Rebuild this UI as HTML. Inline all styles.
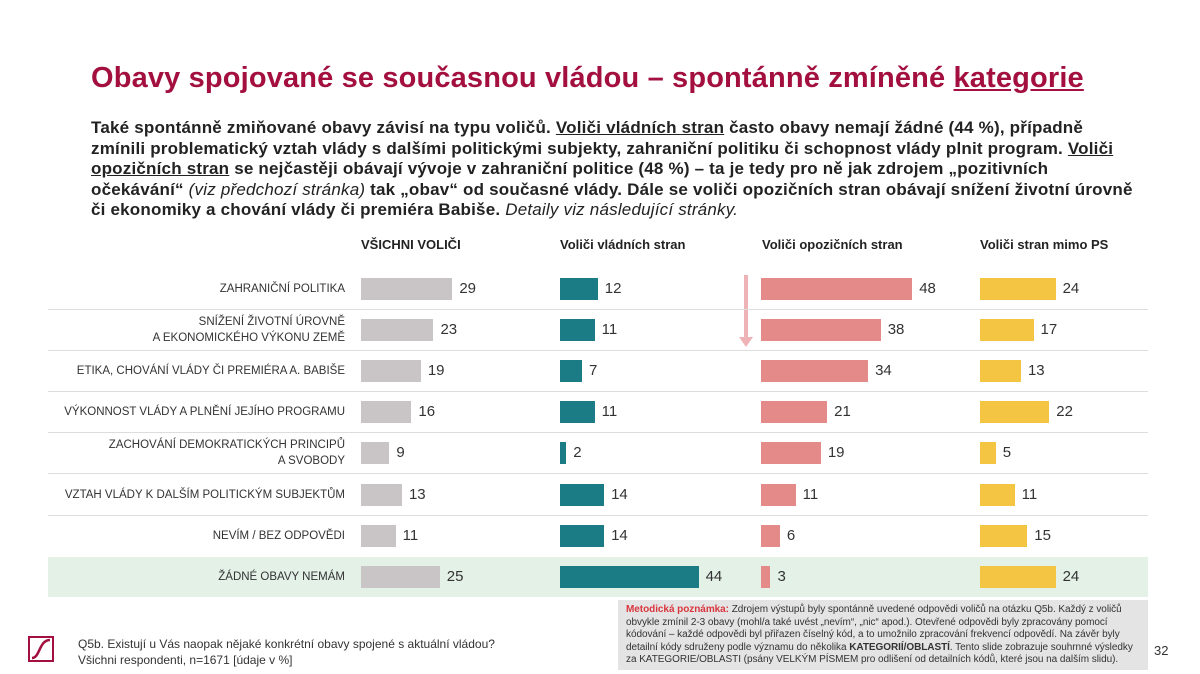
<!DOCTYPE html>
<html><head><meta charset="utf-8"><style>
body{margin:0;width:1200px;height:674px;background:#fff;font-family:"Liberation Sans",sans-serif;position:relative;overflow:hidden;color:#222}
.a{position:absolute}
h1{position:absolute;left:91px;top:62px;margin:0;font-size:29px;color:#a3103f;font-weight:bold;letter-spacing:0.15px;white-space:nowrap}
.p{left:91px;top:118px;font-size:17px;font-weight:bold;line-height:20.5px;color:#222;letter-spacing:0.2px;white-space:nowrap}
.p i{font-weight:normal}
.hd{top:237px;font-size:13px;font-weight:bold}
.lb{right:855px;font-size:11.5px;text-align:right;line-height:16px;color:#333;white-space:nowrap}
.bar{position:absolute;height:22px}
.v{position:absolute;font-size:15px;color:#333}
.sep{position:absolute;left:48px;width:1100px;height:1px;background:#ddd}
.n{left:618px;top:600px;width:530px;height:70px;background:#e4e4e4;box-sizing:border-box;padding:4px 8px;font-size:10px;line-height:12.5px;color:#333;white-space:nowrap;letter-spacing:-0.05px}
</style></head><body>
<h1>Obavy spojované se současnou vládou – spontánně zmíněné <u>kategorie</u></h1>
<div class="a p">Také spontánně zmiňované obavy závisí na typu voličů. <u>Voliči vládních stran</u> často obavy nemají žádné (44 %), případně<br>zmínili problematický vztah vlády s dalšími politickými subjekty, zahraniční politiku či schopnost vlády plnit program. <u>Voliči</u><br><u>opozičních stran</u> se nejčastěji obávají vývoje v zahraniční politice (48 %) – ta je tedy pro ně jak zdrojem „pozitivních<br>očekávání“ <i>(viz předchozí stránka)</i> tak „obav“ od současné vlády. Dále se voliči opozičních stran obávají snížení životní úrovně<br>či ekonomiky a chování vlády či premiéra Babiše. <i>Detaily viz následující stránky.</i></div>
<div class="a hd" style="left:361px">VŠICHNI VOLIČI</div>
<div class="a hd" style="left:560px">Voliči vládních stran</div>
<div class="a hd" style="left:762px">Voliči opozičních stran</div>
<div class="a hd" style="left:980px">Voliči stran mimo PS</div>
<div class="a" style="left:48px;top:557px;width:1100px;height:40px;background:#e3f1e6"></div>
<div class="a" style="left:744px;top:275px;width:4px;height:62px;background:#eeb3b7"></div>
<div class="a" style="left:739px;top:337px;width:0;height:0;border-left:7px solid transparent;border-right:7px solid transparent;border-top:10px solid #eeb3b7"></div>
<div id="c"></div>
<div class="a" style="left:28px;top:636px;width:22px;height:22px;border:2px solid #a3103f"></div>
<svg class="a" style="left:30px;top:638px" width="22" height="22"><path d="M2 20 C10 20 9 2 20 2" stroke="#a3103f" stroke-width="2.5" fill="none"/></svg>
<div class="a" style="left:78px;top:636px;font-size:12px;line-height:16px;color:#333">Q5b. Existují u Vás naopak nějaké konkrétní obavy spojené s aktuální vládou?<br>Všichni respondenti, n=1671 [údaje v %]</div>
<div class="a n"><b style="color:#d9363e">Metodická poznámka:</b> Zdrojem výstupů byly spontánně uvedené odpovědi voličů na otázku Q5b. Každý z voličů<br>obvykle zmínil 2-3 obavy (mohl/a také uvést „nevím“, „nic“ apod.). Otevřené odpovědi byly zpracovány pomocí<br>kódování – každé odpovědi byl přiřazen číselný kód, a to umožnilo zpracování frekvencí odpovědí. Na závěr byly<br>detailní kódy sdruženy podle významu do několika <b>KATEGORIÍ/OBLASTÍ</b>. Tento slide zobrazuje souhrnné výsledky<br>za KATEGORIE/OBLASTI (psány VELKÝM PÍSMEM pro odlišení od detailních kódů, které jsou na dalším slidu).</div>
<div class="a" style="left:1154px;top:643px;font-size:13px;color:#333">32</div>
<script>
var rows=[["ZAHRANIČNÍ POLITIKA",29,12,48,24],["SNÍŽENÍ ŽIVOTNÍ ÚROVNĚ<br>A EKONOMICKÉHO VÝKONU ZEMĚ",23,11,38,17],["ETIKA, CHOVÁNÍ VLÁDY ČI PREMIÉRA A. BABIŠE",19,7,34,13],["VÝKONNOST VLÁDY A PLNĚNÍ JEJÍHO PROGRAMU",16,11,21,22],["ZACHOVÁNÍ DEMOKRATICKÝCH PRINCIPŮ<br>A SVOBODY",9,2,19,5],["VZTAH VLÁDY K DALŠÍM POLITICKÝM SUBJEKTŮM",13,14,11,11],["NEVÍM / BEZ ODPOVĚDI",11,14,6,15],["ŽÁDNÉ OBAVY NEMÁM",25,44,3,24]];
var xs=[361,560,761,980],cols=["#c9c5c6","#1b7c86","#e48a88","#f4c542"],h="";
rows.forEach(function(r,i){var cy=289+i*41.1;
var two=r[0].indexOf("<br>")>0;
h+='<div class="a lb" style="top:'+(cy-(two?16:8))+'px">'+r[0]+'</div>';
for(var k=0;k<4;k++){var w=r[k+1]*3.15;
h+='<div class="bar" style="left:'+xs[k]+'px;top:'+(cy-11)+'px;width:'+w+'px;background:'+cols[k]+'"></div>';
h+='<div class="v" style="left:'+(xs[k]+w+7)+'px;top:'+(cy-9)+'px">'+r[k+1]+'</div>';}
if(i<6)h+='<div class="sep" style="top:'+(cy+20)+'px"></div>';
});
document.getElementById("c").innerHTML=h;
</script>
</body></html>
